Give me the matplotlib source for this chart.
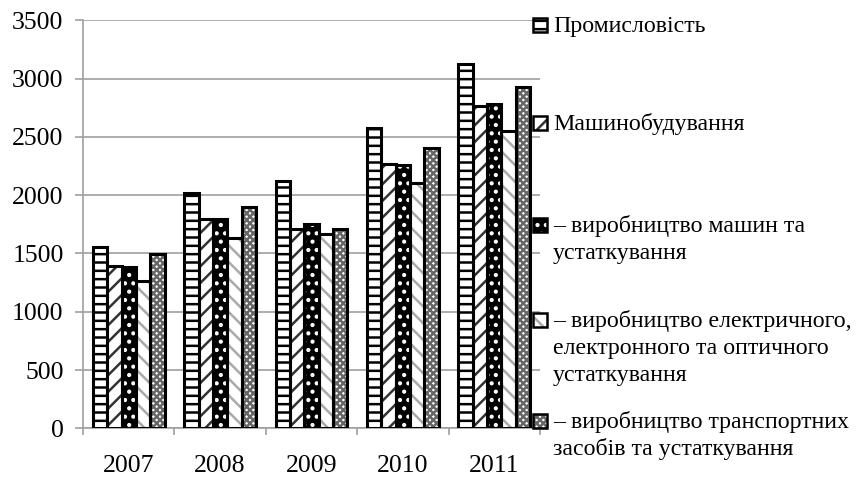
import numpy as np
import matplotlib.pyplot as plt
from matplotlib.patches import Rectangle

plt.rcParams['font.family'] = ['Liberation Serif', 'DejaVu Serif']
plt.rcParams['hatch.linewidth'] = 1.8

years = ['2007', '2008', '2009', '2010', '2011']
promyslovist = [1555, 2020, 2120, 2577, 3124]
mashynobuduvannia = [1392, 1793, 1709, 2264, 2767]
mashyny_ustatk = [1381, 1795, 1750, 2258, 2779]
elektr_ustatk = [1266, 1635, 1664, 2101, 2550]
transport = [1495, 1901, 1706, 2405, 2925]

labels = ['Промисловість',
          'Машинобудування',
          '– виробництво машин та\nустаткування',
          '– виробництво електричного,\nелектронного та оптичного\nустаткування',
          '– виробництво транспортних\nзасобів та устаткування']

# (face, hatch, hatch colour) for each series
styles = [
    ('white', '--', 'black'),
    ('white', '//', '#333333'),
    ('black', '..', 'white'),
    ('white', '\\\\', '#aaaaaa'),
    ('white', 'xxxxx', '#666666'),
]
series = [promyslovist, mashynobuduvannia, mashyny_ustatk, elektr_ustatk, transport]

fig = plt.figure(figsize=(8.58, 4.78), dpi=100)
ax = fig.add_axes([83 / 858, 1 - 428.3 / 478, 457 / 858, 408 / 478])

x = np.arange(len(years))
w = 0.157
for i, (vals, (face, hatch, hcol)) in enumerate(zip(series, styles)):
    pos = x + (i - 2) * w
    ax.bar(pos, vals, w, color=face, linewidth=0, zorder=2)
    ax.bar(pos, vals, w, color='none', edgecolor=hcol, hatch=hatch, linewidth=0, zorder=3)
    ax.bar(pos, vals, w, color='none', edgecolor='black', linewidth=2.2, zorder=4)

ax.set_ylim(0, 3500)
ax.set_xlim(-0.5, 4.5)
ax.set_yticks(range(0, 3501, 500))
ax.yaxis.grid(True, color='#a0a0a0', linewidth=1.2, zorder=0)
ax.set_axisbelow(True)
for s in ['top', 'right']:
    ax.spines[s].set_visible(False)
for s in ['left', 'bottom']:
    ax.spines[s].set_color('#a0a0a0')
    ax.spines[s].set_linewidth(1.2)

ax.set_xticks(x)
ax.set_xticklabels(years)
ax.set_xticks(np.arange(-0.5, 5, 1), minor=True)
ax.tick_params(axis='x', which='major', length=0, pad=19, labelsize=18.5)
ax.tick_params(axis='x', which='minor', length=5, color='#a0a0a0', width=1.2)
ax.tick_params(axis='y', length=6, color='#a0a0a0', width=1.2, pad=8, labelsize=18.5)

# legend drawn by hand to the right of the plot
H = 478.0
baselines = [32, 130, 232, 327, 428]
for (face, hatch, hcol), lab, yb in zip(styles, labels, baselines):
    sq = 14
    rx, ry = 533 / 858, (H - yb) / H
    for fc, ec, ht, lw in [(face, 'none', None, 0), ('none', hcol, hatch, 0), ('none', 'black', None, 1.8)]:
        fig.add_artist(Rectangle((rx, ry), sq / 858, sq / H, transform=fig.transFigure,
                                 facecolor=fc, edgecolor=ec, hatch=ht, linewidth=lw))
    for k, line in enumerate(lab.split('\n')):
        fig.text(553 / 858, (H - yb - k * 27) / H, line, fontsize=17.2,
                 va='baseline', ha='left')

fig.savefig('out.png', dpi=100)
